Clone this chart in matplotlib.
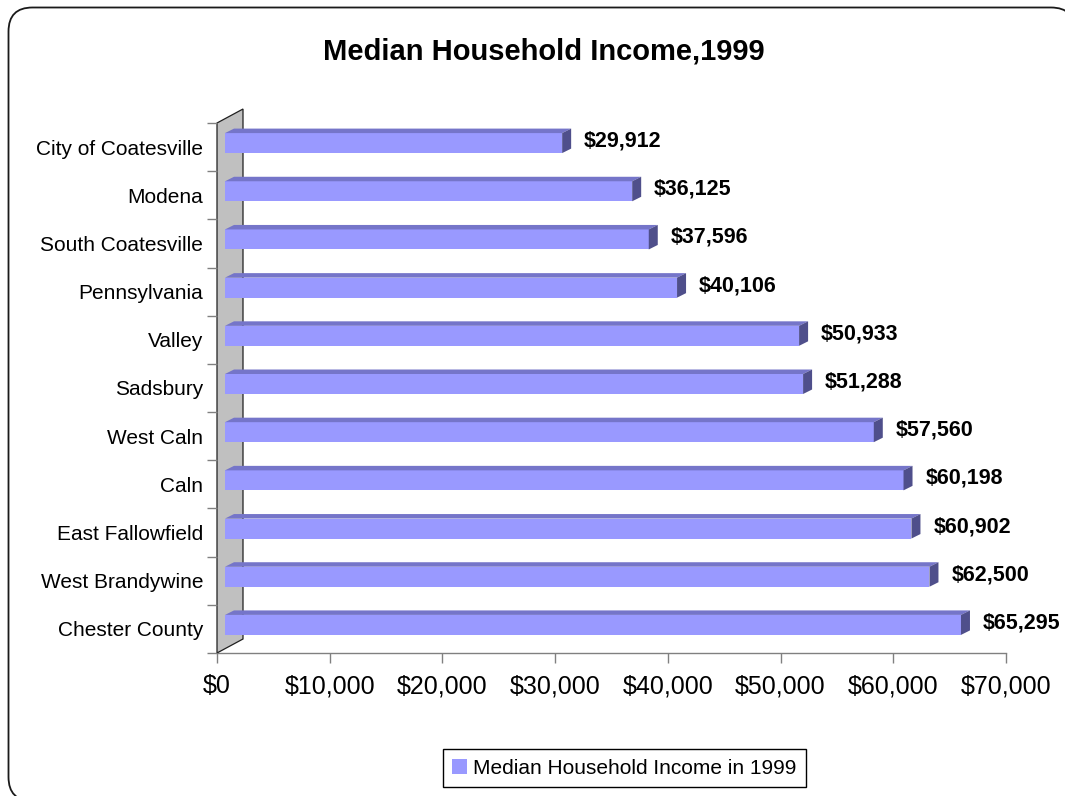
import matplotlib
matplotlib.use("Agg")
import matplotlib.pyplot as plt
from matplotlib.patches import Polygon, Rectangle, FancyBboxPatch, Patch
from matplotlib.transforms import IdentityTransform

plt.rcParams['font.family'] = ['Liberation Sans', 'DejaVu Sans']

# ---- data ----
title = "Median Household Income,1999"
series_name = "Median Household Income in 1999"
categories = ["City of Coatesville", "Modena", "South Coatesville", "Pennsylvania",
              "Valley", "Sadsbury", "West Caln", "Caln", "East Fallowfield",
              "West Brandywine", "Chester County"]
values = [29912, 36125, 37596, 40106, 50933, 51288, 57560, 60198, 60902, 62500, 65295]
xticks = [0, 10000, 20000, 30000, 40000, 50000, 60000, 70000]
xtick_labels = ["$0", "$10,000", "$20,000", "$30,000", "$40,000", "$50,000", "$60,000", "$70,000"]
value_labels = ["$29,912", "$36,125", "$37,596", "$40,106", "$50,933", "$51,288",
                "$57,560", "$60,198", "$60,902", "$62,500", "$65,295"]

# ---- colours ----
c_front = "#9999FF"
c_top = "#7575C9"
c_side = "#4F4F8B"
c_wall = "#C0C0C0"
c_axis = "#808080"

W, H = 1065, 796
fig = plt.figure(figsize=(W / 100, H / 100), dpi=100)
fig.patch.set_facecolor("white")

# plot area (front floor plane)
L, R, T, B = 217, 1006, 123, 653
ax = fig.add_axes([L / W, 1 - B / H, (R - L) / W, (B - T) / H])
n = len(categories)
xmax = xticks[-1]
ax.set_xlim(0, xmax)
ax.set_ylim(0, n)
ax.patch.set_visible(False)

sx = xmax / (R - L)   # data units per pixel (x)
sy = n / (B - T)      # data units per pixel (y)

# side wall
wdx, wdy = 26 * sx, 14 * sy
wall = Polygon([(0, 0), (0, n), (wdx, n + wdy), (wdx, wdy)], closed=True,
               facecolor=c_wall, edgecolor="#202020", linewidth=0.9,
               clip_on=False, zorder=1)
ax.add_patch(wall)

# bars
ox, oy = 8 * sx, 4 * sy
h = 20 * sy
bdx, bdy = 9 * sx, 4.5 * sy
for i, (cat, v, lab) in enumerate(zip(categories, values, value_labels)):
    yc = n - i - 0.5
    y0 = yc + oy - h / 2
    x0 = ox
    x1 = v + ox
    ax.add_patch(Rectangle((x0, y0), v, h, facecolor=c_front, edgecolor="none",
                           zorder=3, clip_on=False))
    ax.add_patch(Polygon([(x0, y0 + h), (x1, y0 + h), (x1 + bdx, y0 + h + bdy),
                          (x0 + bdx, y0 + h + bdy)], closed=True,
                         facecolor=c_top, edgecolor="none", zorder=3, clip_on=False))
    ax.add_patch(Polygon([(x1, y0), (x1 + bdx, y0 + bdy), (x1 + bdx, y0 + h + bdy),
                          (x1, y0 + h)], closed=True,
                         facecolor=c_side, edgecolor="none", zorder=3, clip_on=False))
    ax.text(x1 + bdx + 13 * sx, yc + oy + 2 * sy, lab, ha="left", va="center",
            fontsize=15.5, fontweight="bold", color="black", zorder=5)

# axes styling
for s in ["top", "right", "left"]:
    ax.spines[s].set_visible(False)
ax.spines["bottom"].set_color(c_axis)
ax.spines["bottom"].set_linewidth(1.0)
ax.spines["bottom"].set_zorder(0.5)

ax.set_xticks(xticks)
ax.set_xticklabels(xtick_labels)
ax.tick_params(axis="x", length=7.2, width=1.0, color=c_axis, labelsize=18,
               pad=8, labelcolor="black")

ax.set_yticks(range(n + 1))
ax.set_yticklabels([])
ax.set_yticks([n - i - 0.5 for i in range(n)], minor=True)
ax.set_yticklabels(categories, minor=True)
ax.tick_params(axis="y", which="major", length=7.2, width=1.0, color=c_axis)
ax.tick_params(axis="y", which="minor", length=0, pad=10, labelsize=15,
               labelcolor="black")

# title
fig.text(543.5 / W, 1 - 52 / H, title, ha="center", va="center",
         fontsize=21, fontweight="bold", color="black")

# legend
leg = fig.legend(handles=[Patch(facecolor=c_front, edgecolor="none", label=series_name)],
                 loc="center", bbox_to_anchor=(624.5 / W, 1 - 768 / H),
                 fontsize=15, frameon=True, fancybox=False, framealpha=1,
                 edgecolor="black", handlelength=0.7, handleheight=0.7,
                 handletextpad=0.3, borderpad=0.45, borderaxespad=0)
leg.get_frame().set_linewidth(1.0)

# outer rounded border (filled white, drawn beneath everything, so the stroke is not clipped)
border = FancyBboxPatch((8.5, -5), 1066.5, 793.5,
                        boxstyle="round,pad=0,rounding_size=24",
                        transform=IdentityTransform(), facecolor="white",
                        edgecolor="#1a1a1a", linewidth=1.3, zorder=-10)
fig.add_artist(border)

fig.savefig("out.png", dpi=100)
